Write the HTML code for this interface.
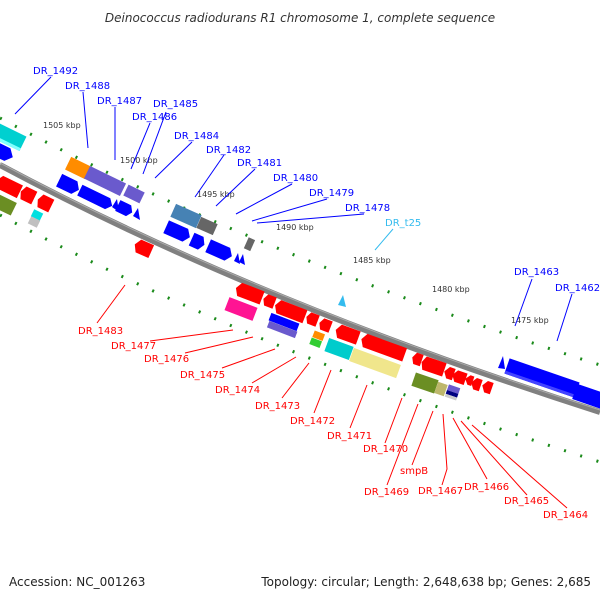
<!DOCTYPE html>
<html><head><meta charset="utf-8"><style>
html,body{margin:0;padding:0;background:#fff}
svg{display:block}
.b{font-family:"DejaVu Sans","Liberation Sans",sans-serif;font-size:10px;fill:#0000ff}
.r{font-family:"DejaVu Sans","Liberation Sans",sans-serif;font-size:10px;fill:#ff0000}
.k{font-family:"DejaVu Sans","Liberation Sans",sans-serif;font-size:8px;fill:#333}
</style></head><body>
<svg width="600" height="600" viewBox="0 0 600 600" xmlns="http://www.w3.org/2000/svg">
<text x="300" y="22" text-anchor="middle" font-family="DejaVu Sans, Liberation Sans, sans-serif" font-size="12" font-style="italic" fill="#333">Deinococcus radiodurans R1 chromosome 1, complete sequence</text>

<path d="M0,165 Q258,303 600,412" transform="translate(0,-47)" fill="none" stroke="#1a8a1a" stroke-width="3" stroke-dasharray="2 15"/>
<path d="M0,165 Q258,303 600,412" transform="translate(0,50)" fill="none" stroke="#1a8a1a" stroke-width="3" stroke-dasharray="2 15"/>

<path d="M0,165 Q258,303 600,412" fill="none" stroke="#808080" stroke-width="6"/>
<path d="M0,163 Q258,301 600,410" fill="none" stroke="#aaa" stroke-width="1"/>

<g id="f">
<g transform="translate(5,135) rotate(26)"><rect x="-20" y="-8" width="40" height="16" fill="#00d0d0"/><rect x="-20" y="5" width="40" height="3" fill="#80ffff"/></g>
<g transform="translate(2,152) rotate(26)"><polygon points="-12,-7 6,-7 12,0 6,7 -12,7" fill="#0000ff"/></g>
<g transform="translate(10,187) rotate(26)"><polygon points="-11,-7 11,-7 11,7 -11,7 -15,0" fill="#ff0000"/></g>
<g transform="translate(28,195) rotate(26)"><polygon points="-5,-7 7,-7 7,7 -5,7 -8,0" fill="#ff0000"/></g>
<g transform="translate(45,203) rotate(26)"><polygon points="-5,-7 7,-7 7,7 -5,7 -8,0" fill="#ff0000"/></g>
<g transform="translate(3,204) rotate(26)"><rect x="-12" y="-7" width="24" height="14" fill="#6b8e23"/></g>
<g transform="translate(37,215) rotate(26)"><rect x="-5" y="-4" width="10" height="8" fill="#00e0e0"/></g>
<g transform="translate(34,222) rotate(26)"><rect x="-5" y="-4" width="10" height="8" fill="#c0c0c0"/></g>
<g transform="translate(143,248) rotate(24)"><polygon points="-5,-7 9,-7 9,7 -5,7 -9,0" fill="#ff0000"/></g>

<g transform="translate(78,168) rotate(26)"><rect x="-11" y="-7" width="22" height="14" fill="#ff8c00"/></g>
<g transform="translate(105,181) rotate(26)"><rect x="-20" y="-7" width="40" height="14" fill="#6a5acd"/></g>
<g transform="translate(69,185) rotate(26)"><polygon points="-11,-7 6,-7 11,0 6,7 -11,7" fill="#0000ff"/></g>
<g transform="translate(96,198) rotate(26)"><polygon points="-18,-6 13,-6 18,0 13,6 -18,6" fill="#0000ff"/></g>
<polygon points="112,207 117,199 119,212" fill="#0000ff"/>
<g transform="translate(134,194) rotate(26)"><rect x="-9" y="-6" width="18" height="12" fill="#6a5acd"/></g>
<g transform="translate(125,209) rotate(26)"><polygon points="-8,-6 4,-6 8,0 4,6 -8,6" fill="#0000ff"/></g>
<polygon points="133,216 138,208 140,220" fill="#0000ff"/>

<g transform="translate(186,216) rotate(24)"><rect x="-14" y="-7" width="28" height="14" fill="#4682b4"/></g>
<g transform="translate(207,226) rotate(24)"><rect x="-9" y="-6" width="18" height="12" fill="#666"/></g>
<g transform="translate(178,232) rotate(24)"><polygon points="-13,-7 8,-7 13,0 8,7 -13,7" fill="#0000ff"/></g>
<g transform="translate(198,242) rotate(24)"><polygon points="-7,-7 3,-7 7,0 3,7 -7,7" fill="#0000ff"/></g>
<g transform="translate(220,251) rotate(24)"><polygon points="-13,-7 8,-7 13,0 8,7 -13,7" fill="#0000ff"/></g>
<polygon points="234,261 238,253 240,264" fill="#0000ff"/>
<polygon points="239,262 243,254 245,265" fill="#0000ff"/>
<g transform="translate(249,244) rotate(24)"><rect x="-3" y="-6" width="7" height="12" fill="#666"/></g>

<g transform="translate(249,293) rotate(21)"><polygon points="-10,-7 14,-7 14,7 -10,7 -14,0" fill="#ff0000"/></g>
<g transform="translate(241,309) rotate(21)"><rect x="-15" y="-7" width="30" height="14" fill="#ff1493"/></g>
<g transform="translate(269,301) rotate(21)"><polygon points="-3,-6 6,-6 6,6 -3,6 -6,0" fill="#ff0000"/></g>
<g transform="translate(290,311) rotate(21)"><polygon points="-12,-7 16,-7 16,7 -12,7 -16,0" fill="#ff0000"/></g>
<g transform="translate(284,322) rotate(21)"><rect x="-15" y="-4" width="30" height="8" fill="#0000ff"/></g>
<g transform="translate(282,330) rotate(21)"><rect x="-15" y="-4" width="30" height="7" fill="#6a5acd"/></g>
<g transform="translate(312,319) rotate(21)"><polygon points="-3,-6 6,-6 6,6 -3,6 -6,0" fill="#ff0000"/></g>
<g transform="translate(325,325) rotate(21)"><polygon points="-3,-6 6,-6 6,6 -3,6 -6,0" fill="#ff0000"/></g>
<g transform="translate(318,336) rotate(21)"><rect x="-5" y="-4" width="11" height="7" fill="#ff8c00"/></g>
<g transform="translate(315,343) rotate(21)"><rect x="-5" y="-4" width="11" height="7" fill="#32cd32"/></g>
<polygon points="338,305 343,295 346,307" fill="#33bbee"/>
<g transform="translate(347,334) rotate(20)"><polygon points="-8,-7 12,-7 12,7 -8,7 -12,0" fill="#ff0000"/></g>
<g transform="translate(383,347) rotate(20)"><polygon points="-19,-7 23,-7 23,7 -19,7 -23,0" fill="#ff0000"/></g>
<g transform="translate(339,349) rotate(20)"><rect x="-13" y="-7" width="26" height="14" fill="#00cccc"/></g>
<g transform="translate(375,363) rotate(20)"><rect x="-25" y="-7" width="50" height="14" fill="#f0e68c"/></g>

<g transform="translate(417,359) rotate(19)"><polygon points="-2,-6 5,-6 5,6 -2,6 -5,0" fill="#ff0000"/></g>
<g transform="translate(433,366) rotate(19)"><polygon points="-9,-7 12,-7 12,7 -9,7 -12,0" fill="#ff0000"/></g>
<g transform="translate(449,373) rotate(19)"><polygon points="-1,-6 5,-6 5,6 -1,6 -5,0" fill="#ff0000"/></g>
<g transform="translate(459,377) rotate(19)"><polygon points="-3,-6 7,-6 7,6 -3,6 -7,0" fill="#ff0000"/></g>
<g transform="translate(469,380) rotate(19)"><polygon points="0,-5 4,-5 4,5 0,5 -4,0" fill="#ff0000"/></g>
<g transform="translate(476,384) rotate(19)"><polygon points="-1,-6 5,-6 5,6 -1,6 -5,0" fill="#ff0000"/></g>
<g transform="translate(487,387) rotate(19)"><polygon points="-1,-6 5,-6 5,6 -1,6 -5,0" fill="#ff0000"/></g>
<g transform="translate(425,383) rotate(19)"><rect x="-12" y="-7" width="24" height="14" fill="#6b8e23"/></g>
<g transform="translate(441,389) rotate(19)"><rect x="-5" y="-6" width="10" height="12" fill="#bdb76b"/></g>
<g transform="translate(453,391) rotate(19)"><rect x="-6" y="-5" width="12" height="6" fill="#6a5acd"/><rect x="-6" y="1" width="12" height="4" fill="#000080"/><rect x="-6" y="5" width="12" height="3" fill="#ccc"/></g>
<polygon points="498,368 503,356 505,369" fill="#0000ff"/>
<g transform="translate(542,378) rotate(19)"><polygon points="-37,-8 37,-8 37,8 -37,8" fill="#0000ff"/><rect x="-37" y="5" width="74" height="3" fill="#4444ff"/></g>
<g transform="translate(588,396) rotate(19)"><polygon points="-14,-8 20,-8 20,8 -14,8" fill="#0000ff"/></g>
</g>

<text class="k" x="43" y="128">1505 kbp</text>
<text class="k" x="120" y="163">1500 kbp</text>
<text class="k" x="197" y="197">1495 kbp</text>
<text class="k" x="276" y="230">1490 kbp</text>
<text class="k" x="353" y="263">1485 kbp</text>
<text class="k" x="432" y="292">1480 kbp</text>
<text class="k" x="511" y="323">1475 kbp</text>

<g stroke="#0000ff" stroke-width="1" fill="none">
<line x1="51" y1="77" x2="15" y2="114"/>
<line x1="83" y1="92" x2="88" y2="148"/>
<line x1="115" y1="107" x2="115" y2="160"/>
<line x1="150" y1="123" x2="131" y2="169"/>
<line x1="166" y1="112" x2="143" y2="174"/>
<line x1="192" y1="142" x2="155" y2="178"/>
<line x1="224" y1="155" x2="195" y2="197"/>
<line x1="255" y1="169" x2="216" y2="206"/>
<line x1="292" y1="184" x2="236" y2="214"/>
<line x1="327" y1="199" x2="252" y2="221"/>
<line x1="364" y1="214" x2="257" y2="223"/>
<line x1="532" y1="279" x2="515" y2="326"/>
<line x1="572" y1="294" x2="557" y2="341"/>
</g>
<line x1="393" y1="229" x2="375" y2="250" stroke="#33bbee"/>
<text class="b" x="33" y="74">DR_1492</text>
<text class="b" x="65" y="89">DR_1488</text>
<text class="b" x="97" y="104">DR_1487</text>
<text class="b" x="153" y="107">DR_1485</text>
<text class="b" x="132" y="120">DR_1486</text>
<text class="b" x="174" y="139">DR_1484</text>
<text class="b" x="206" y="153">DR_1482</text>
<text class="b" x="237" y="166">DR_1481</text>
<text class="b" x="273" y="181">DR_1480</text>
<text class="b" x="309" y="196">DR_1479</text>
<text class="b" x="345" y="211">DR_1478</text>
<text class="b" x="385" y="226" style="fill:#33bbee">DR_t25</text>
<text class="b" x="514" y="275">DR_1463</text>
<text class="b" x="555" y="291">DR_1462</text>

<g stroke="#ff0000" stroke-width="1" fill="none">
<line x1="125" y1="285" x2="97" y2="323"/>
<line x1="233" y1="330" x2="150" y2="341"/>
<line x1="253" y1="337" x2="185" y2="353"/>
<line x1="275" y1="349" x2="222" y2="368"/>
<line x1="296" y1="357" x2="252" y2="383"/>
<line x1="309" y1="363" x2="282" y2="398"/>
<line x1="331" y1="370" x2="314" y2="413"/>
<line x1="367" y1="385" x2="350" y2="428"/>
<line x1="402" y1="398" x2="385" y2="443"/>
<line x1="418" y1="404" x2="387" y2="485"/>
<line x1="433" y1="411" x2="412" y2="465"/>
<polyline points="443,414 447,469 442,485"/>
<line x1="453" y1="418" x2="487" y2="479"/>
<line x1="461" y1="421" x2="527" y2="495"/>
<line x1="472" y1="425" x2="567" y2="508"/>
</g>
<text class="r" x="78" y="334">DR_1483</text>
<text class="r" x="111" y="349">DR_1477</text>
<text class="r" x="144" y="362">DR_1476</text>
<text class="r" x="180" y="378">DR_1475</text>
<text class="r" x="215" y="393">DR_1474</text>
<text class="r" x="255" y="409">DR_1473</text>
<text class="r" x="290" y="424">DR_1472</text>
<text class="r" x="327" y="439">DR_1471</text>
<text class="r" x="363" y="452">DR_1470</text>
<text class="r" x="400" y="474">smpB</text>
<text class="r" x="364" y="495">DR_1469</text>
<text class="r" x="418" y="494">DR_1467</text>
<text class="r" x="464" y="490">DR_1466</text>
<text class="r" x="504" y="504">DR_1465</text>
<text class="r" x="543" y="518">DR_1464</text>

<text x="9" y="586" font-family="DejaVu Sans, Liberation Sans, sans-serif" font-size="12" fill="#222">Accession: NC_001263</text>
<text x="591" y="586" text-anchor="end" font-family="DejaVu Sans, Liberation Sans, sans-serif" font-size="12" fill="#222">Topology: circular; Length: 2,648,638 bp; Genes: 2,685</text>
</svg>
</body></html>
